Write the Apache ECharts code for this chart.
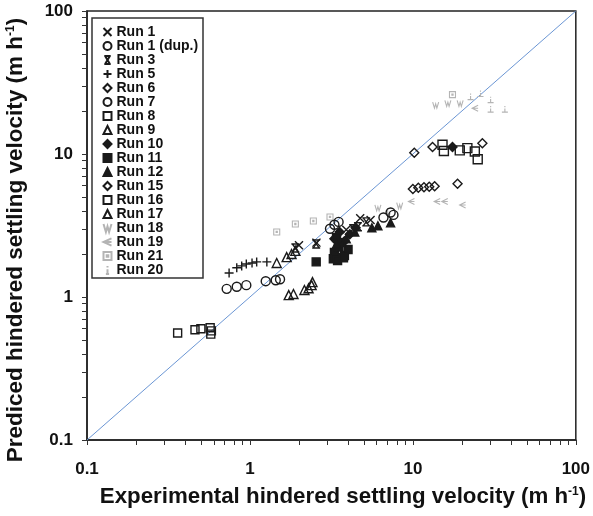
<!DOCTYPE html>
<html><head><meta charset="utf-8">
<script src="https://cdn.jsdelivr.net/npm/echarts@6/dist/echarts.min.js"></script>
<style>html,body{margin:0;padding:0;background:#fff}#c{width:593px;height:516px}</style>
</head><body><div id="c"></div>
<script>
const runNames = ['Run 1','Run 1 (dup.)','Run 3','Run 5','Run 6','Run 7','Run 8','Run 9','Run 10','Run 11','Run 12','Run 15','Run 16','Run 17','Run 18','Run 19','Run 21','Run 20'];
const run1    = [[2.0,2.3],[2.56,2.4],[4.75,3.55],[5.5,3.45],[3.9,2.95]];
const run1dup = [[0.72,1.14],[0.83,1.18],[0.95,1.21],[1.25,1.29],[1.44,1.31],[1.53,1.33]];
const run3    = [[1.9,2.2],[2.55,2.35],[4.3,3.0],[5.17,3.35],[4.6,3.1]];
const run5    = [[0.745,1.47],[0.83,1.6],[0.89,1.65],[0.95,1.7],[1.03,1.73],[1.1,1.76],[1.27,1.76]];
const run6    = [[10.0,5.7],[10.8,5.8],[11.7,5.85],[12.6,5.9],[13.6,5.95],[18.8,6.2]];
const run7    = [[3.1,3.0],[3.3,3.2],[3.5,3.35],[6.6,3.6],[7.3,3.9],[7.6,3.75]];
const run8    = [[0.36,0.56],[0.46,0.59],[0.50,0.60],[0.57,0.61],[0.575,0.55],[0.58,0.58]];
const run9    = [[1.46,1.73],[1.68,1.9],[1.8,2.0],[1.9,2.1]];
const run10   = [[3.3,2.55],[3.55,2.85],[3.8,2.45],[4.1,2.75],[4.45,3.05],[3.45,2.2],[17.5,11.2]];
const run11   = [[2.55,1.76],[3.25,1.85],[3.3,2.05],[3.5,2.25],[3.8,1.95],[4.0,2.15],[3.6,2.4],[3.45,1.8],[3.75,1.88],[3.4,2.6]];
const run12   = [[3.4,2.35],[3.9,2.55],[4.4,2.85],[5.6,3.05],[6.1,3.15],[7.3,3.3]];
const run15   = [[10.2,10.2],[13.2,11.2],[26.7,11.9]];
const run16   = [[15.2,11.6],[15.5,10.5],[19.4,10.6],[21.6,11.0],[24.0,10.4],[25.0,9.2]];
const run17   = [[1.73,1.03],[1.85,1.05],[2.16,1.12],[2.29,1.15],[2.39,1.21],[2.42,1.27]];
const run18   = [[13.8,22.0],[16.4,22.6],[19.5,22.6],[6.1,4.2],[8.3,4.35]];
const run19   = [[9.8,4.65],[14.1,4.65],[15.7,4.65],[20.2,4.4],[24.1,20.9]];
const run21   = [[1.46,2.85],[1.9,3.24],[2.45,3.4],[3.1,3.63],[17.5,26.0]];
const run20   = [[22.6,25.2],[26.0,26.5],[30.0,24.0],[30.0,20.6],[36.7,20.6],[7.0,4.0]];
const lineX = [0.1, 100];
const lineY = [0.1, 100];
const majorTicks = [0.1, 1, 10, 100];
const minorTicks = [0.2,0.3,0.4,0.5,0.6,0.7,0.8,0.9,2,3,4,5,6,7,8,9,20,30,40,50,60,70,80,90];

const runData = [run1, run1dup, run3, run5, run6, run7, run8, run9, run10, run11, run12, run15, run16, run17, run18, run19, run21, run20];
const P = {
  x: 'path://M0,0L10,10M10,0L0,10',
  bow: 'path://M1,0L9,0M1,10L9,10M2,0L8,10M8,0L2,10',
  plus: 'path://M5,0L5,10M0,5L10,5',
  g18: 'path://M0,0L3,10L5,3L7,10L10,0',
  g19: 'path://M10,1L1,5L10,9M1,5L10,5',
  g21: 'path://M0,0L10,0L10,10L0,10ZM4,4L6,4L6,6L4,6Z',
  g20: 'path://M5,0L5,2M5,4L5,10M3,10L7,10'
};
const ink = '#1a1a1a', grey = '#b4b4b4';
const styles = [
  {sym: P.x, size: 8, fill: 'none', stroke: ink},
  {sym: 'circle', size: 9, fill: 'none', stroke: ink},
  {sym: P.bow, size: 8, fill: 'none', stroke: ink},
  {sym: P.plus, size: 9, fill: 'none', stroke: ink},
  {sym: 'diamond', size: 9, fill: 'none', stroke: ink},
  {sym: 'circle', size: 9, fill: 'none', stroke: ink},
  {sym: 'rect', size: 8, fill: 'none', stroke: ink},
  {sym: 'triangle', size: 9, fill: 'none', stroke: ink},
  {sym: 'diamond', size: 9, fill: ink, stroke: ink},
  {sym: 'rect', size: 8, fill: ink, stroke: ink},
  {sym: 'triangle', size: 8, fill: ink, stroke: ink},
  {sym: 'diamond', size: 9, fill: 'none', stroke: ink},
  {sym: 'rect', size: 9, fill: 'none', stroke: ink},
  {sym: 'triangle', size: 9, fill: 'none', stroke: ink},
  {sym: P.g18, size: 6, fill: 'none', stroke: grey},
  {sym: P.g19, size: 6, fill: 'none', stroke: grey},
  {sym: P.g21, size: 6, fill: 'none', stroke: grey},
  {sym: P.g20, size: 6, fill: 'none', stroke: grey}
];

const font = 'Liberation Sans, Arial, sans-serif';
const series = [{
  type: 'line', data: lineX.map((v, i) => [v, lineY[i]]), symbol: 'none', silent: true,
  lineStyle: {color: '#6b96d4', width: 1}, z: 1
}];
runNames.forEach((n, i) => {
  const s = styles[i];
  series.push({
    type: 'scatter', name: n, data: runData[i], symbol: s.sym, symbolSize: s.size,
    itemStyle: {color: s.fill, borderColor: s.stroke, borderWidth: i >= 14 ? 1.1 : 1.4, opacity: 1}, z: i >= 14 ? 2 : 3
  });
});

const chart = echarts.init(document.getElementById('c'), null, {renderer: 'canvas'});
const axisCommon = {
  type: 'log', logBase: 10, min: 0.1, max: 100,
  axisLine: {show: true, lineStyle: {color: '#222', width: 1.5}},
  axisTick: {show: true, inside: false, length: 5, lineStyle: {color: '#333', width: 1}, customValues: majorTicks.concat(minorTicks)},
  axisLabel: {show: true, customValues: majorTicks, fontFamily: font, fontWeight: 'bold', fontSize: 17, color: '#111',
    formatter: v => String(+(+v).toPrecision(3))},
  splitLine: {show: false}, minorTick: {show: false}
};
chart.setOption({
  animation: false,
  grid: {left: 87, top: 11, width: 492, height: 429, show: true, borderColor: '#222', borderWidth: 1.5, backgroundColor: '#fff'},
  xAxis: Object.assign({}, axisCommon, {axisLabel: Object.assign({}, axisCommon.axisLabel, {margin: 21})}),
  yAxis: Object.assign({}, axisCommon, {axisLabel: Object.assign({}, axisCommon.axisLabel, {margin: 14})}),
  legend: {
    orient: 'vertical', left: 101, top: 25, padding: 0, itemGap: 0, itemWidth: 8, itemHeight: 8,
    data: runNames.map((n, i) => ({name: n, icon: styles[i].sym})),
    textStyle: {fontFamily: font, fontWeight: 'bold', fontSize: 14, color: '#111', lineHeight: 13.8},
    selectedMode: false
  },
  graphic: [
    {type: 'rect', shape: {x: 92, y: 18, width: 111, height: 260}, style: {fill: 'none', stroke: '#333', lineWidth: 1.5}, z: 10},
    {type: 'text', x: 343, y: 497, style: {
      text: '{a|Experimental hindered settling velocity (m h}{s|-1}{a|)}', align: 'center', verticalAlign: 'middle',
      rich: {a: {fontFamily: font, fontWeight: 'bold', fontSize: 22.3, fill: '#111', verticalAlign: 'bottom'},
             s: {fontFamily: font, fontWeight: 'bold', fontSize: 12, fill: '#111', verticalAlign: 'top'}}}},
    {type: 'text', x: 16, y: 240, rotation: Math.PI / 2, style: {
      text: '{a|Prediced hindered settling velocity (m h}{s|-1}{a|)}', align: 'center', verticalAlign: 'middle',
      rich: {a: {fontFamily: font, fontWeight: 'bold', fontSize: 22.5, fill: '#111', verticalAlign: 'bottom'},
             s: {fontFamily: font, fontWeight: 'bold', fontSize: 12, fill: '#111', verticalAlign: 'top'}}}}
  ],
  series: series
});
</script></body></html>
